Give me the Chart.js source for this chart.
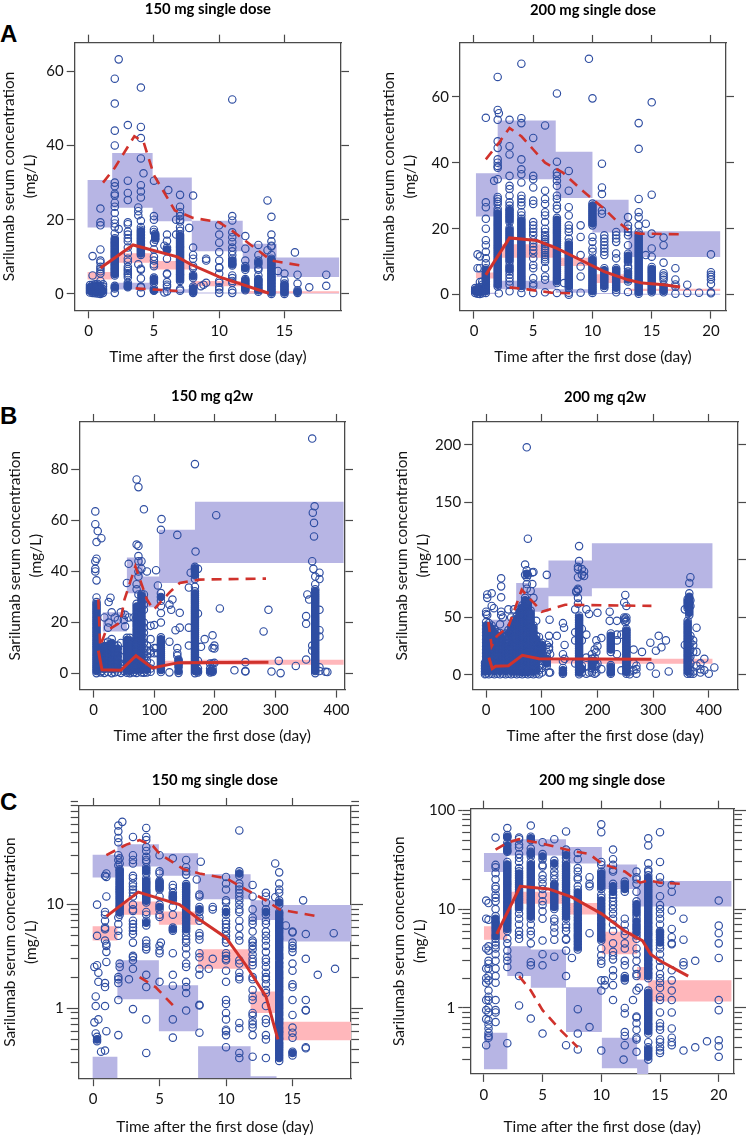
<!DOCTYPE html>
<html>
<head>
<meta charset="utf-8">
<title>Sarilumab serum concentration</title>
<script src="https://cdn.jsdelivr.net/npm/chart.js@4"></script>
<style>
html, body { margin: 0; background: #fff; }
#page { position: relative; width: 749px; height: 1135px; overflow: hidden; }
canvas { position: absolute; }
.letter { position: absolute; left: 0; font: bold 24px "Liberation Sans", sans-serif; color: #000; line-height: 24px; }
</style>
</head>
<body>
<div id="page">
<div class="letter" style="top:22px">A</div>
<div class="letter" style="top:404px">B</div>
<div class="letter" style="top:790px">C</div>
</div>
<script>
// tick labels
var xTicksSingle = [0, 5, 10, 15];
var xTicksSingle200 = [0, 5, 10, 15, 20];
var xTicksQ2w = [0, 100, 200, 300, 400];
var yTicksA = [0, 20, 40, 60];
var yTicksB1 = [0, 20, 40, 60, 80];
var yTicksB2 = [0, 50, 100, 150, 200];
var logMinor = [0.3, 0.4, 0.5, 0.6, 0.7, 0.8, 0.9, 1, 2, 3, 4, 5, 6, 7, 8, 9, 10, 20, 30, 40, 50, 60, 70, 80, 90, 100];

// panel A, 150 mg single dose
var a1Edges = [-0.1, 1.8, 4.9, 7.9, 11.8, 14.4, 19.2];
var a1Upper = [[30.7, 17.9], [38, 23.2], [31.4, 19.6], [19.7, 11.5], [13.5, 6.8], [9.8, 4.6]];
var a1Mid = [[5.9, 3.9], [11, 8.4], [8.9, 6.6], [3.5, 2.1], [0.8, 0.1], [0.7, 0.2]];
var a1Lower = [[0.3, 0.1], [3, 1.2], [1.3, 0.3], [0.4, 0.1], [0.2, 0], [0.1, 0]];
var a1Median = [[0.9, 7], [3.4, 13.2], [6.8, 10], [7.8, 8], [10, 4.6], [13.8, 0.2]];
var a1P95 = [[1.1, 30], [2, 34], [3.5, 42.5], [4.2, 41], [5, 32], [6.6, 22.5], [8, 20.5], [10, 19.3], [11, 17], [12.5, 13], [14, 9], [16.5, 7.5]];
var a1P05 = [[3.6, 1.5], [5, 1.2], [6.8, 0.8]];
var a1Points = [
 [0.1, [0.4, 0.9, 1.4, 1.9, 2.4]], [0.3, [0.3, 0.7, 1.2, 1.6, 2.1, 2.5, 5, 10.2]], [0.5, [0.2, 0.6, 1, 1.5, 2, 2.6]], [0.7, [0.1, 0.5, 0.9, 1.3, 1.8, 2.3, 2.7]],
 [0.9, [0, 0.4, 0.8, 1.2, 1.7, 2.2, 3.5, 5.5, 6.1, 6.7, 7.3, 8.5, 9, 12, 18.5, 19.3, 23]], [1.1, [0.3, 0.8, 1.3, 2, 2.6]],
 [2, [0.3, 1.5, 1.8, 2.2, 5, 5.4, 5.7, 6.1, 6.5, 6.8, 7.2, 7.6, 7.9, 8.3, 8.7, 9, 9.4, 9.8, 10.2, 10.5, 10.9, 11.3, 11.6, 12, 12.4, 12.7, 13.1, 13.5, 13.8, 14.2, 14.6, 15, 16.3, 18, 19, 20, 21.8, 23.5, 24.6, 26.5, 27, 29, 30, 40, 44, 51.3, 58]],
 [2.3, [17.5, 63.2]],
 [3, [1.8, 2, 2.5, 3, 4.5, 5.1, 5.6, 6.2, 6.7, 7.3, 8.7, 9.5, 11, 12.5, 14.2, 15, 16, 16.8, 18.8, 19.3, 25.3, 27.2, 30.5, 45.5]],
 [3.8, [8, 21.2, 22.3, 23.3]],
 [4, [0.3, 1.8, 2, 4.2, 6.5, 6.8, 10.5, 10.9, 11.3, 11.7, 12.1, 12.5, 12.9, 13.3, 13.7, 14.1, 14.5, 14.9, 15.3, 15.7, 16.1, 16.5, 16.9, 17.3, 18, 19.7, 26, 27.6, 29.3, 36.5, 42, 45, 55.6]],
 [4.2, [32.5]],
 [5, [0.9, 1, 1.5, 3, 3.5, 4, 4.4, 7.5, 8, 9, 10, 12, 13.9, 16.7, 17.3, 20, 21, 30.5]], [5.1, [14.6, 15, 15.4, 15.8, 16.2]],
 [5.8, [13, 0.4]], [6, [0.7, 2, 2.5, 3.2, 5.3, 5.5, 9.5, 11.8, 12, 12.5, 14.3, 16]], [6.1, [28]],
 [6.7, [16, 20]],
 [7, [0.9, 1.3, 3.5, 3.9, 4.3, 4.7, 5.1, 5.4, 5.8, 6.2, 6.6, 7, 7.4, 7.8, 8.2, 8.6, 8.9, 9.3, 9.7, 10.1, 10.5, 10.9, 11.3, 11.7, 12.1, 12.5, 12.8, 13.2, 13.6, 14, 14.4, 14.8, 15.2, 15.6, 16, 17, 18, 19.5, 20, 21, 22, 23.5, 26.7]],
 [7.7, [17.8]],
 [8, [0.3, 0.6, 0.9, 1.2, 1.5, 2, 4.3, 4.8, 5.2, 7, 7.5, 9.5, 10.5, 12.5, 26.5]],
 [8.6, [2.1]], [8.8, [2.5]], [9, [3, 9, 9.5]],
 [10, [0.3, 1.2, 1.8, 3, 3.5, 5.5, 7, 7.2, 9, 11.3, 13.8, 16, 18.5]],
 [11, [0.3, 1, 3, 3.5, 4.3, 5, 7.7, 8, 8.3, 8.7, 9, 9.5, 10.5, 11.5, 12.5, 14, 15.3, 16.6, 19.8, 21, 52.4]],
 [12, [1, 1.3, 1.7, 2.1, 2.5, 2.9, 3.3, 3.7, 4, 6.5, 7, 7.5, 9, 12.2, 15.6]],
 [13, [0.6, 1, 1.4, 1.8, 2.2, 2.6, 3, 3.4, 3.8, 4, 5, 6.5, 7, 8, 8.5, 9, 10.5, 13.2]],
 [13.7, [11.8, 25.2]],
 [14, [0, 0.4, 0.8, 1.2, 1.6, 2, 2.4, 2.8, 3.2, 3.6, 4, 4.4, 4.8, 5.2, 5.6, 6, 6.4, 6.8, 7.2, 7.6, 8, 8.4, 8.8, 9.2, 9.5, 10.5, 12.8, 13, 14.2, 16, 20.8]],
 [14.5, [6.2]], [15, [0, 0.4, 0.8, 1.2, 1.6, 2, 2.4, 2.8, 3.7, 5.5]], [15.8, [11.2]], [16, [0.3, 0.6, 1, 2.8, 5.2]], [16.9, [1.8]], [18.2, [2.2, 5.2]]
];

// panel A, 200 mg single dose
var a2Edges = [0.15, 2, 6.9, 10, 13.05, 20.8];
var a2Upper = [[36.8, 23.7], [52.8, 35], [43.3, 29.3], [28.8, 18.8], [19.2, 11.4]];
var a2Mid = [[6.7, 4.9], [15.3, 11.2], [11.2, 8.7], [6.2, 3.5], [1.8, 1.1]];
var a2Lower = [[0.6, 0.2], [4.2, 1.6], [1.6, 0.6], [0.5, 0.2], [0.3, 0]];
var a2Median = [[1, 6], [3, 17.2], [5.3, 16.4], [7, 14], [9, 10.5], [11, 7], [13, 4.5], [14.2, 3.5], [16, 3], [17.4, 2.3]];
var a2P95 = [[1, 41], [2.1, 46], [3, 50.5], [4, 48], [5, 44], [6, 40], [7.5, 37], [9, 32], [10, 29], [11, 26], [12, 22.5], [13.2, 19], [14, 18.5], [17.3, 18.3]];
var a2P05 = [[3, 2.2], [4.5, 1.6], [6.5, 0.6], [8.3, 0.4]];
var a2Points = [
 [0.1, [0.5, 1, 1.5, 2]], [0.3, [0.3, 0.8, 1.3, 1.8, 8, 12.2]], [0.5, [0.2, 0.7, 1.2, 1.7, 2.3, 3.8, 8, 11.6]], [0.7, [0.4, 1, 1.6, 2.2, 3, 4]],
 [1, [0.5, 1, 1.5, 2, 2.5, 3, 3.5, 4, 4.5, 5, 5.5, 6, 6.5, 7, 7.5, 8, 9.5, 11, 13, 15, 16.5, 20, 23, 26.5, 28, 53.6]],
 [1.7, [34.5]], [2, [2.5, 3, 3.6, 4.2, 4.8, 5.4, 6, 6.6, 7.2, 7.8, 8.4, 9, 9.6, 10.2, 10.8, 11.4, 12, 12.6, 13.2, 13.8, 14.4, 15, 15.6, 16.2, 16.8, 17.4, 18, 18.6, 19.2, 19.8, 20.4, 21, 21.6, 22.2, 22.8, 23.4, 24, 24.6, 25.2, 26, 27.5, 28.2, 29, 29.6, 35, 38.5, 39, 40, 41, 44.5, 46.5, 53, 56, 66]],
 [2.1, [0.4, 55]],
 [3, [1, 3, 4, 5, 6, 7, 7.6, 8.2, 8.8, 10, 10.6, 11.2, 11.8, 12.4, 13, 13.6, 14.2, 14.8, 15.4, 16, 16.6, 17.2, 17.8, 18.4, 19, 19.6, 20.2, 22, 22.6, 23.2, 23.8, 24.4, 25, 25.6, 26, 27, 28, 30, 32, 33, 36, 42.5, 45, 53]],
 [4, [0.5, 2, 2.6, 3.2, 3.8, 4.4, 5, 5.6, 6.2, 6.8, 7.4, 8, 8.6, 9.2, 9.8, 10.4, 11, 11.6, 12.2, 12.8, 13.4, 14, 14.6, 15.2, 15.8, 16.4, 17, 17.6, 18.2, 18.8, 19.4, 20, 20.6, 21.2, 21.8, 22.4, 23, 24, 25, 27, 28, 29, 30, 34, 36.5, 38, 41, 52, 53.5, 70]],
 [5, [0.5, 2.6, 3.4, 5, 8, 9, 11, 12.5, 13.5, 14.5, 15.5, 16.5, 18, 19, 20, 21, 22, 27.5, 28.5, 32.5, 35, 36, 47.5]],
 [6, [0.7, 4.5, 5.5, 8, 10, 10.7, 11.4, 12, 12.7, 13.4, 14, 14.7, 15.4, 16, 16.7, 17.4, 18, 19, 20, 22, 24, 25, 27.5, 29, 31.5, 51.3]],
 [7, [0.5, 3.5, 4.1, 4.7, 5.3, 5.9, 6.5, 7.1, 7.7, 8.3, 8.9, 9.5, 10.1, 10.7, 11.3, 11.9, 12.5, 13.1, 13.7, 14.3, 14.9, 15.5, 16.1, 16.7, 17.3, 17.9, 18.5, 19.1, 19.7, 20.3, 20.9, 21.5, 22.1, 22.7, 23.3, 26, 27, 29, 30, 33, 34.5, 36, 37, 40.3, 61]],
 [7.6, [3.5]], [8, [0, 0.6, 2, 2.6, 3.2, 3.8, 4.4, 5, 5.6, 6.2, 6.8, 7.4, 8, 8.6, 9.2, 9.8, 10.4, 11, 11.6, 12.2, 12.8, 13.4, 14, 14.6, 15.2, 15.8, 17, 19, 20, 21, 24, 26.5, 31.5, 37.5]],
 [9, [0.6, 5.5, 8.5, 12, 17.5, 21]],
 [9.7, [71.5]], [10, [0.5, 1, 1.6, 2.2, 2.8, 3.4, 4, 4.6, 5.2, 5.8, 6.4, 7, 7.6, 8.2, 8.8, 9.4, 10, 10.6, 11.2, 13, 14, 16, 17.5, 21, 21.6, 22.2, 22.8, 23.4, 24, 24.6, 25.2, 25.8, 26.4, 27, 27.6, 59.5]],
 [10.8, [24.5, 25.5, 30.5, 32.5, 39.7]],
 [11, [2, 2.6, 3.2, 3.8, 4.4, 5, 5.6, 6.2, 6.8, 7.4, 8, 12, 13, 14, 15, 16, 17, 18]],
 [12, [0.7, 1.5, 2.1, 2.7, 3.3, 3.9, 4.5, 5.1, 5.7, 6.3, 6.9, 7.5, 8, 11, 12.5, 16, 17, 18, 19]],
 [13, [0.8, 4, 4.6, 5.2, 5.8, 6.4, 7, 8, 8.6, 10, 10.6, 11.2, 11.8, 12.4, 15, 18, 19, 20, 21, 23.5]],
 [13.9, [0.3, 0.8, 1.4, 2, 2.6, 3.2, 3.8, 4.4, 5, 5.6, 6.2, 6.8, 7.4, 8, 8.6, 9.2, 9.8, 10.4, 11, 11.6, 12.2, 12.8, 13.4, 14, 14.6, 15.2, 15.8, 16.4, 17, 17.6, 18.2, 19, 21, 23.5, 25, 29, 44.2, 52]],
 [14.5, [12, 21.5]], [15, [0.7, 1.2, 1.8, 2.4, 3, 3.6, 4.2, 4.8, 5.4, 6, 6.6, 7.2, 7.8, 8.4, 11.5, 14, 18.5, 30.3, 58.3]],
 [16, [0.7, 1.2, 1.8, 2.4, 3, 4.5, 5.2, 5.8, 6.5, 9.7, 15, 17.3]],
 [17, [0.3, 2.4, 3.1, 4.6, 8]], [18, [0.5, 3]], [19, [0.6]], [20, [0.4, 0.7, 3.2, 4.6, 5.4, 6, 6.8, 12.2]]
];

// panel B, 150 mg q2w
var b1Edges = [15, 55, 82, 108, 167, 412];
var b1Upper = [[24, 16.5], [45.5, 31.5], [38, 26], [56.3, 35.5], [67.3, 43.3]];
var b1Mid = [[2, 1], [8, 5], [3, 1.5], [5, 3.5], [5.4, 3.5]];
var b1Median = [[8, 9], [14, 1.5], [45, 1.3], [70, 7], [97, 2.2], [140, 4.3], [288, 4.5]];
var b1P95 = [[8, 29], [11, 10.7], [20, 16.5], [44, 20], [51, 29], [69, 42], [88, 29], [99, 25], [126, 32], [142, 35.5], [175, 36.8], [284, 37.2]];
var b1Points = [
 [3, [40, 41, 44, 58.5, 63.5]], [5, [0.2, 1, 1.7, 2.5, 3.2, 4, 4.7, 5.5, 6.2, 7, 7.7, 8.5, 9.2, 10, 10.7, 11.5, 12.2, 13, 13.7, 14.5, 15.2, 16, 16.7, 17.5, 18.2, 19, 19.7, 20.5, 21.2, 22, 22.7, 23.5, 24.2, 25, 25.7, 26.5, 27.2, 28, 29.8, 36.5, 45, 51.5]],
 [7, [55.8]], [13, [1, 3, 5, 7, 9, 53]],
 [12, [0.5, 2, 3.4, 5, 6.4, 8, 9, 10.5]], [18, [0.3, 1.8, 3.3, 4.8, 6.3, 7.8, 9.3, 10.8, 12, 22]], [24, [0.6, 2.1, 3.6, 5.1, 6.6, 8.1, 9.6, 11, 12.5, 18]], [25, [20, 28]], [28, [29.7]], [30, [0.2, 1.7, 3.2, 4.7, 6.2, 7.7, 9.2, 10.6, 12, 13.5, 24]],
 [35, [0.5, 2, 3.5, 5, 6.5, 8, 9.5, 11, 22]], [40, [0.7, 2.2, 3.7, 5.2, 6.7, 8.2, 9.7, 11, 21]], [45, [0.3, 2, 3.5, 6.5, 12, 24]], [50, [1, 3, 21]], [52, [18.5, 23]],
 [55, [0.4, 1.2, 2, 2.8, 3.6, 4.4, 5.2, 6, 6.8, 7.6, 8.4, 9.2, 10, 10.8, 11.6, 12.4, 13.2, 14, 35.5]], [60, [0.2, 1, 1.8, 2.6, 3.4, 4.2, 5, 5.8, 6.6, 7.4, 8.2, 9, 9.8, 10.6, 11.4, 12.2, 13, 14]],
 [58, [43, 22]], [66, [0.5, 3, 6, 22]],
 [71, [0.3, 1.3, 2.3, 3.3, 4.3, 5.3, 6.3, 7.3, 8.3, 9.3, 10.3, 11.3, 12.3, 13.3, 14.3, 15.3, 16.3, 17.3, 18.3, 19.3, 20.3, 21.3, 22.3, 23.3, 24.3, 25.3, 26.3, 27.3, 33, 35, 50.5, 76]],
 [74, [31, 38, 40, 44, 46, 50, 73]],
 [79, [0.5, 1.5, 2.5, 3.5, 4.5, 5.5, 6.5, 7.5, 8.5, 9.5, 10.5, 11.5, 12.5, 13.5, 14.5, 15.5, 16.5, 17.5, 18.5, 19.5, 20.5, 21.5, 22.5, 23.5, 24.5, 25.5, 26.5, 27.5, 28.5, 29.5, 30.5, 31.2, 41, 44]],
 [83, [64.3, 0.4, 2, 4, 6, 8, 10, 12, 14, 16, 18, 20, 25, 27, 29, 31]], [88, [0.5, 1.5, 3, 5, 7, 9, 11, 40]], [94, [0.7, 2, 4, 8, 9, 13.5, 18.7]], [100, [19, 10, 8]],
 [103, [40.5, 10]], [106, [34.5, 8]], [111, [0.6, 1.4, 2.2, 3, 3.8, 4.6, 5.4, 6.2, 7, 7.8, 8.6, 9.4, 10.2, 11, 11.8, 12.6, 13.4, 14.2, 20, 23.7, 26.5, 28.5, 30, 31.5, 56.3]], [112, [60.5]],
 [125, [12.5, 27, 0.5]], [128, [25]], [130, [29]], [135, [17]], [138, [10, 54.3, 8, 7]], [140, [0.3, 1, 2.5, 3.5, 4, 5, 5.5]], [142, [18, 23.8]],
 [157, [11, 18, 33.7]], [160, [39.5]],
 [167, [0.2, 1, 1.8, 2.6, 3.4, 4.2, 5, 5.8, 6.6, 7.4, 8.2, 9, 9.8, 10.6, 11.4, 12.2, 13, 13.8, 14.6, 15.4, 16.2, 17, 17.8, 18.6, 19.4, 20.2, 21, 21.8, 22.6, 23.4, 24.2, 25, 25.8, 26.6, 27.4, 28.2, 29, 29.8, 30.6, 31.4, 32.2, 34, 37, 38.5, 39.8, 40.6, 41.2, 41.8, 82]],
 [168, [47.8]], [172, [0.5, 1, 2, 5, 23.5, 41]], [177, [10.5]], [183, [13.5]], [192, [0.5, 1, 2, 4]], [196, [0.6, 1, 2, 4, 10, 15]], [199, [9.8, 11, 4.2]], [202, [62]], [208, [25.5]],
 [232, [1.3]], [250, [0.8, 1, 4.5]], [280, [16.5]], [288, [25]], [293, [0.8]], [305, [5]], [308, [0.2]], [333, [3]], [350, [5.5, 19.5, 22.5]], [352, [31]], [355, [29]],
 [360, [92, 44, 9, 11]], [361, [63]], [362, [41]], [363, [53.7, 59]], [364, [65.5]],
 [365, [0.2, 1, 1.8, 2.6, 3.4, 4.2, 5, 5.8, 6.6, 7.4, 8.2, 9, 9.8, 10.6, 11.4, 12.2, 13, 13.8, 14.6, 15.4, 16.2, 17, 17.8, 18.6, 19.4, 20.2, 21, 21.8, 22.6, 23.4, 24.2, 25, 25.8, 26.6, 27.4, 28.2, 29, 29.8, 30.6, 31.4, 32.2, 33, 35, 38]],
 [372, [1, 2.5, 14.5, 17, 25, 37, 39.5]], [382, [0.7]], [385, [0.6]]
];

// panel B, 200 mg q2w
var b2Edges = [5, 54, 76, 112, 190, 407];
var b2Upper = [[48, 25], [80, 50], [75.7, 55], [99.4, 68.4], [114.5, 75.4]];
var b2Mid = [[9, 5], [18, 12], [16, 11], [14, 10], [14, 9.6]];
var b2Median = [[5, 15], [11, 5.5], [17, 7.5], [40, 8], [65, 17], [95, 14], [297, 13.5]];
var b2P95 = [[4, 46], [10, 25], [19, 33.6], [40, 42], [64, 74], [100, 55], [142, 61], [297, 60]];
var b2Points = [
 [-2, [0.5, 3, 5.5, 8, 10.5]], [0, [1, 4, 7, 10, 13, 16, 19, 22, 25, 28, 31, 34, 37, 40, 43, 46, 53, 55]], [2, [52, 67, 70]], [5, [0.5, 3.5, 6.5, 9.5, 12.5, 15.5, 18.5, 21.5, 24.5, 27.5, 30.5, 33.5, 36.5, 39.5, 42.5, 45]],
 [10, [1, 4, 7, 10, 13, 16, 19, 22, 25, 28, 31, 34, 37, 40, 43, 60, 71]], [14, [58]], [15, [0.5, 3.5, 6.5, 9.5, 12.5, 15.5, 18.5, 21.5, 24.5, 27.5, 30.5, 33.5, 36.5, 39.5]],
 [20, [1, 4, 7, 10, 13, 16, 19, 22, 25, 28, 31, 34, 37]], [25, [0.5, 3.5, 6.5, 9.5, 12.5, 15.5, 18.5, 21.5, 24.5, 27.5, 30.5, 33.5, 36.5, 44]], [27, [55, 67.5, 77, 84, 52]],
 [30, [1, 4, 7, 10, 13, 16, 19, 22, 25, 28, 31, 34, 50]], [35, [0.5, 3.5, 6.5, 9.5, 12.5, 15.5, 18.5, 21.5, 24.5, 27.5, 33, 36]], [40, [1, 4, 7, 10, 13, 16, 19, 22, 25, 28, 33, 36, 39, 57]], [45, [0.5, 3.5, 6.5, 9.5, 12.5, 15.5, 18.5, 21.5, 24.5, 27.5, 30.5, 33.5, 36.5, 39.5, 42.5, 50]],
 [50, [1, 3, 6, 9, 12, 15, 18, 21, 24, 27, 30, 33, 36, 39, 42, 45, 48, 57]], [55, [0.5, 3.5, 6.5, 9.5, 12.5, 15.5, 18.5, 21.5, 24.5, 27.5, 30.5, 33.5, 36.5, 39.5, 42.5, 45.5, 48.5, 51]],
 [60, [1, 3, 5, 7, 9, 11, 13, 15, 17, 19, 21, 23, 25, 27, 29, 31, 33, 35, 37, 39, 41, 43, 45, 47, 49, 51, 53, 55, 57]],
 [65, [0.5, 2.5, 4.5, 6.5, 8.5, 10.5, 12.5, 14.5, 16.5, 18.5, 20.5, 22.5, 24.5, 26.5, 28.5, 30.5, 32.5, 34.5, 36.5, 38.5, 40.5, 42.5, 44.5, 46.5, 48.5, 50.5, 52.5, 54.5, 56.5, 58.5, 60.5]],
 [70, [1, 3, 5, 7, 9, 11, 13, 15, 17, 19, 21, 23, 25, 27, 29, 31, 33, 35, 37, 39, 41, 43, 45, 47, 49, 51, 53, 55, 57, 59, 61, 63, 65, 67, 87, 96]],
 [73, [75, 79, 85, 88, 91, 198]], [75, [0.5, 2.5, 4.5, 6.5, 8.5, 10.5, 12.5, 14.5, 16.5, 18.5, 20.5, 22.5, 24.5, 26.5, 28.5, 30.5, 32.5, 34.5, 36.5, 38.5, 40.5, 42.5, 44.5, 46.5, 48.5, 50.5, 52.5, 54.5, 56.5, 58.5, 60.5, 62.5, 64, 87, 118.5]],
 [80, [1, 3.5, 6, 8.5, 11, 13.5, 16, 18.5, 21, 23.5, 26, 28.5, 31, 33.5, 36, 38.5, 41, 43.5, 46, 48.5, 51, 53.5, 56, 73]], [83, [79, 89]], [85, [0.5, 3, 5.5, 8, 10.5, 13, 15.5, 18, 20.5, 23, 25.5, 28, 30.5, 33, 35.5, 38, 40.5, 43, 67, 89.5]],
 [90, [1, 4, 7, 10, 13, 16, 19, 22, 25, 28, 31, 34, 47]], [95, [0.5, 4, 8, 12, 16, 20, 24, 28, 33]], [100, [2, 6, 12, 15, 17, 20, 22, 24, 26, 28]], [109, [87, 8, 10, 12, 14, 16, 20, 26]], [113, [34, 28, 24, 22, 2]], [114, [48]], [115, [2, 18]],
 [127, [34]], [138, [45, 18, 12, 6, 4, 2, 1]], [140, [41]], [141, [26, 14]],
 [160, [10, 30, 37, 57]], [162, [72, 73]], [165, [62, 67, 74, 75, 85, 92, 94]],
 [167, [0.5, 2, 3.5, 5, 6.5, 8, 9.5, 11, 12.5, 14, 15.5, 17, 18.5, 20, 21.5, 23, 24.5, 26, 27.5, 29, 30.5, 32, 33.5, 35, 36.5, 38, 39.5, 41, 42.5, 44, 45.5, 47, 48.5, 50, 51.5, 99, 112]],
 [172, [2, 5, 8, 30, 40, 87, 92]], [176, [86, 90]], [180, [1, 57, 35, 15]], [185, [53, 2]], [190, [2, 6, 8, 10, 12, 14, 18]], [195, [1, 5, 9, 12, 15, 22]], [198, [2, 8, 30, 20]], [200, [54, 10, 25]], [207, [32, 5]],
 [222, [47, 55]], [224, [1, 2, 3, 5, 7, 8.5, 20, 22, 24, 26, 28, 30, 32, 34, 36]], [235, [47, 35, 30, 18]], [243, [35, 4]], [248, [63, 50, 48]], [250, [69.5, 46, 49]],
 [252, [1, 2.5, 4, 5.5, 7, 8.5, 10, 11.5, 13, 14.5, 16, 17.5, 19, 20.5, 22, 23.5, 25, 26.5, 28, 29.5, 31, 32.5, 34, 35.5, 37, 38.5, 40, 47, 50, 60]],
 [258, [0.5, 3]], [265, [22, 4, 10]], [270, [1, 5, 8]], [280, [20]], [295, [28, 7.5]], [305, [1, 21]], [310, [34]], [315, [24]], [323, [30]], [328, [3]],
 [357, [26, 57]], [362, [1, 3, 5, 7, 9, 11, 13, 15, 17, 19, 21, 23, 25, 27, 29, 31, 33, 35, 37, 39, 41, 43, 45, 47, 58, 60, 62, 64, 66]],
 [365, [80, 71, 2, 8, 14, 20, 26, 32, 52, 54, 56, 58, 60, 62, 64, 66, 68]], [367, [85, 1, 4, 10, 16, 22, 28, 34, 60, 65]], [372, [1, 3, 20, 26, 30]], [378, [41, 20, 8]], [385, [2, 5, 10]], [392, [14, 4]], [400, [1]], [410, [6.5]]
];

// panel C, 150 mg single dose, log axis
var c1Edges = [-0.05, 1.83, 4.95, 7.9, 11.85, 13.8, 19.4];
var c1Upper = [[30.3, 18.3], [38.2, 23.4], [31.4, 19], [19.6, 11.3], [11, 7.1], [9.9, 4.4]];
var c1Mid = [[6.2, 4.5], [10.7, 8], [8.6, 6.4], [3.7, 2.4], [1.45, 0.9], [0.74, 0.49]];
var c1Lower = [[0.34, 0.1], [2.9, 1.22], [1.67, 0.6], [0.43, 0.1], [0.22, 0.1], [0.1, 0.1]];
var c1Median = [[1, 7.7], [3.4, 13.2], [6.5, 10], [8, 7.2], [10, 4.8], [11.5, 2.6], [13, 1.3], [13.9, 0.5]];
var c1P95 = [[1, 30], [2.5, 38], [3.5, 42], [4.5, 37], [5, 31], [6.8, 22], [8, 20], [10, 18], [11.5, 14], [13, 11], [14, 9], [16.7, 7.8]];
var c1P05 = [[3.5, 2], [4.7, 1.6], [6, 1.07]];
var c1Points = [
 [0.1, [0.73, 2.5]], [0.2, [0.57, 1.05, 1.3]], [0.3, [0.48, 0.5, 0.53, 2.6, 5, 10]], [0.4, [0.78, 1.8, 2.2]], [0.6, [0.38]],
 [0.9, [0.39, 1.05, 1.6, 1.75, 4.5, 5.8, 6, 7, 8, 8.5, 19]], [1, [0.6, 2.8, 3.5, 4, 4.2, 12, 18.5, 20]],
 [1.9, [0.55, 1.2, 1.75, 1.9, 2, 5, 5.6, 6.5, 7.5, 24, 27, 30, 40, 44, 51, 58]],
 [2, [2.5, 2.7, 8, 8.4, 8.8, 9.2, 9.6, 10, 10.5, 11, 11.5, 12, 12.5, 13, 13.5, 14, 14.5, 15, 15.6, 16.2, 16.8, 17.5, 18.2, 19, 19.8, 20.6, 21.4, 22, 25, 28]],
 [2.2, [63]],
 [2.7, [1.9]], [3, [0.98, 2.4, 2.9, 3.1, 3.2, 4.3, 5.2, 5.6, 6, 6.5, 7, 8.7, 9, 10, 12, 13, 14, 15, 16, 18, 19, 25, 27, 30, 45]],
 [4, [0.37, 0.78, 1.6, 2.1, 3.7, 3.9, 4.2, 4.5, 6.3, 6.7, 7, 8, 8.5, 10.5, 10.9, 11.3, 11.7, 12.1, 12.6, 13, 13.5, 14, 14.6, 15.2, 15.8, 16.4, 17, 18, 20, 21, 22, 23, 26, 27, 29, 33, 36, 42, 45, 55]],
 [5, [1.8, 3.4, 3.6, 4, 7.6, 8, 9, 9.5, 10, 12, 14, 14.5, 15, 15.5, 16, 16.5, 17, 20, 21, 30]], [5.1, [4.3]],
 [6, [0.52, 0.78, 1.65, 2.1, 3.4, 5.6, 5.8, 6, 8, 9.5, 11, 11.5, 11.8, 12, 12.4, 13, 14.5, 15.5, 28]],
 [7, [0.95, 1.4, 1.6, 1.8, 2.5, 2.7, 3.3, 3.8, 4.3, 4.6, 5, 5.5, 5.8, 6, 6.3, 6.6, 7, 7.3, 7.6, 8, 8.3, 8.7, 9, 9.4, 9.8, 10.2, 10.6, 11, 11.5, 12, 12.5, 13, 13.5, 14, 14.6, 15.2, 15.8, 19.5, 21, 23, 27]],
 [7.8, [17.5]], [8, [0.58, 1.06, 1.08, 2.1, 2.4, 3.1, 3.4, 4.6, 5, 5.3, 7, 7.5, 8.5, 9, 9.5, 12, 12.5]], [8.1, [26]], [8.7, [2.4]], [9, [3, 9, 9.5]],
 [10, [0.42, 0.55, 0.6, 0.62, 0.78, 0.9, 1.1, 1.2, 1.8, 2.3, 2.9, 3, 3.2, 3.4, 4.3, 4.6, 5, 5.5, 6, 6.5, 7, 8, 8.5, 9, 10.5, 11, 14, 16, 18.5]],
 [11, [0.33, 0.37, 0.64, 0.72, 1.9, 2, 2.2, 2.7, 2.9, 4.5, 5, 6, 7, 8.5, 9, 10, 11, 12, 13, 14, 15, 16, 19, 20, 21, 52]],
 [12, [0.34, 0.55, 0.65, 0.7, 0.75, 0.85, 0.9, 1.2, 1.3, 1.5, 1.9, 2, 2.6, 2.8, 3, 3.3, 3.7, 4, 4.3, 4.5, 5.5, 6.5, 7, 7.5, 9, 12, 15.5]],
 [13, [0.33, 0.5, 0.55, 0.72, 0.78, 1.05, 1.4, 1.5, 1.7, 1.9, 2, 2.2, 2.5, 2.8, 3, 3.5, 4, 4.5, 5, 5.5, 6.5, 7, 8, 8.5, 9, 10.5, 12, 13]],
 [13.7, [11.8, 25]],
 [14, [0.31, 0.33, 0.35, 0.37, 0.39, 0.41, 0.43, 0.45, 0.47, 0.5, 0.52, 0.55, 0.58, 0.6, 0.63, 0.66, 0.7, 0.73, 0.77, 0.8, 0.85, 0.89, 0.93, 0.98, 1.03, 1.08, 1.13, 1.19, 1.25, 1.3, 1.37, 1.44, 1.5, 1.58, 1.66, 1.74, 1.83, 1.92, 2, 2.1, 2.2, 2.3, 2.45, 2.55, 2.7, 2.8, 3, 3.1, 3.25, 3.4, 3.6, 3.8, 3.95, 4.15, 4.35, 4.6, 4.8, 5, 5.3, 5.55, 5.8, 6.1, 6.4, 6.7, 7.1, 7.4, 7.8, 8.2, 8.5, 10, 10.5, 11, 13, 14, 16, 20.5]],
 [14.5, [6.3]], [15, [0.35, 0.37, 0.38, 0.52, 0.58, 0.65, 0.86, 1.2, 1.6, 1.7, 2.3, 2.7, 3.5, 3.8, 4, 4.3, 5.4, 5.5]], [15.8, [11]], [16, [0.41, 0.42, 0.95, 0.96, 1.2, 3, 5.2]], [16.9, [2.1]], [18.1, [5.3]], [18.2, [2.4]]
];

// panel C, 200 mg single dose, log axis
var c2Edges = [0, 2, 4, 7, 10.05, 13.05, 14, 21.1];
var c2Upper = [[37, 23.7], [51, 34.8], [51, 34.8], [42.5, 29], [28.3, 16], [19.2, 10.6], [19.2, 10.6]];
var c2Mid = [[6.7, 4.9], [15, 11.3], [15, 11.3], [11.5, 8.8], [5.9, 3.5], [2.6, 1.9], [1.9, 1.16]];
var c2Lower = [[0.56, 0.24], [4.2, 2.1], [3.9, 1.6], [1.62, 0.57], [0.5, 0.245], [0.3, 0.2], [0.1, 0.1]];
var c2Median = [[1.1, 5.6], [3.1, 17], [5.5, 16], [7.5, 13.2], [10, 9], [12, 6], [13.5, 4.8], [14.2, 3.5], [15, 3], [17.4, 2.1]];
var c2P95 = [[1, 40], [2, 47], [3, 51], [5, 46], [7, 40], [9, 36], [10, 29], [12, 24], [13.3, 18.5], [14, 19.5], [15, 18.5], [17, 18]];
var c2P05 = [[3, 2.1], [4, 1.5], [5, 0.95], [6.5, 0.6], [8, 0.4]];
var c2Points = [
 [0.2, [0.42, 0.77, 0.95, 1.2, 1.8, 2, 2.5, 4, 8, 12.2]],
 [0.4, [0.5, 0.52, 0.56, 0.62, 0.68, 0.75, 0.9, 1, 1.2, 1.3, 1.5, 1.9, 2.1, 2.5, 2.8, 3, 3.8, 4.2, 7.8, 11.5]],
 [1, [0.72, 0.9, 0.95, 1.2, 1.8, 2.1, 2.5, 3, 3.5, 4, 4.3, 4.6, 5, 5.3, 5.6, 6, 6.4, 6.8, 7.2, 7.5, 8, 8.5, 10, 12, 13, 14, 16, 17, 20, 23, 26.5, 28, 53]],
 [2, [0.44, 2.6, 3, 3.3, 3.8, 4.5, 5, 6, 6.3, 6.7, 7.1, 7.5, 7.9, 8.3, 8.8, 9.3, 9.8, 10.3, 10.9, 11.5, 12.1, 12.8, 13.5, 14.2, 15, 15.8, 16.7, 17.6, 18.5, 19.5, 20.6, 21.7, 22.9, 24.1, 25.5, 26.8, 28.3, 30, 38, 39, 41, 44, 47, 53, 54, 56, 66]],
 [3, [1.06, 2.1, 5, 5.5, 6, 7, 8, 9, 10, 10.5, 11, 11.6, 12.2, 12.8, 13.5, 14.2, 15, 15.8, 16.7, 17.6, 18.5, 19.5, 20.6, 21.7, 22.9, 24.1, 26, 30, 33, 36, 42, 45, 51, 53]],
 [4, [0.78, 2.7, 2.9, 4.5, 5.5, 6, 7, 8, 8.4, 8.9, 9.4, 9.9, 10.4, 11, 11.6, 12.2, 12.8, 13.5, 14.2, 15, 15.8, 16.7, 17.6, 18.5, 19.5, 20.6, 21.7, 22.9, 24.1, 25.5, 26.8, 28.3, 30, 34, 36, 37, 38, 41, 50, 52, 54, 70]],
 [5, [0.55, 2.7, 3.5, 4.8, 8, 9.5, 11, 12, 14, 16, 18, 20, 22, 27, 28, 32, 34, 36, 47.5]],
 [6, [3.3, 4.9, 5.8, 6.5, 7.5, 8, 10, 10.5, 11, 11.6, 12.2, 12.8, 13.5, 14.2, 15, 15.8, 16.7, 17.6, 18, 20, 22, 24, 27, 29, 31, 51]],
 [7, [0.42, 2.1, 3.8, 4.9, 5, 6, 6.5, 7, 8, 8.4, 8.9, 9.4, 9.9, 10.4, 11, 11.6, 12.2, 12.8, 13.5, 14.2, 15, 15.8, 16.7, 17.6, 18.5, 19.5, 20.6, 21.7, 22.9, 24.1, 25.5, 26.8, 28, 30, 33, 35, 37, 40, 61]],
 [7.5, [3.2]], [8, [0.38, 0.55, 0.97, 3.9, 4.1, 4.4, 4.7, 5, 5.3, 5.6, 6, 6.4, 6.8, 7.2, 7.7, 8.2, 8.8, 9.4, 10, 10.7, 11.4, 12.2, 13, 13.8, 14.7, 15.7, 17, 20, 21, 24, 26, 32, 37]],
 [9, [0.64, 5.7, 17, 18, 21]],
 [10, [0.37, 1.5, 1.9, 2.8, 3, 3.4, 4, 4.8, 5, 5.3, 5.6, 6, 6.4, 6.8, 7.2, 7.7, 8.2, 8.8, 9.4, 10, 10.7, 11.4, 12.2, 13, 14, 16, 16.8, 17.6, 18.5, 19.5, 20.6, 21.7, 22.9, 24, 28, 30, 60, 72]], [10.3, [1.7, 1.9]],
 [11, [1.2, 1.7, 2.1, 2.4, 3.1, 3.4, 3.7, 4.5, 6, 7, 8, 9, 10, 11, 12, 13, 14, 15, 16, 17, 18, 24, 25, 28, 32, 40]],
 [11.9, [0.3]], [12, [0.42, 0.52, 0.57, 0.88, 1, 1.9, 2, 2.1, 2.7, 3, 4, 4.5, 5.5, 6, 7, 8, 15, 16, 17, 18, 19]],
 [12.7, [1.2]], [13, [0.36, 0.48, 0.5, 0.6, 0.7, 0.8, 0.82, 1.5, 2.1, 2.2, 2.5, 3, 3.5, 4, 5, 5.4, 5.8, 6.2, 6.6, 7, 7.5, 8, 8.6, 9.2, 9.8, 10.5, 11.2, 12, 15, 18, 20, 21, 24]], [13.2, [1.6]],
 [14, [0.3, 0.32, 0.34, 0.36, 0.38, 0.4, 0.45, 0.55, 0.58, 0.61, 0.64, 0.67, 0.7, 0.74, 0.78, 0.82, 0.86, 0.9, 0.95, 1, 1.05, 1.1, 1.16, 1.22, 1.28, 1.35, 1.42, 1.5, 2, 2.1, 2.2, 2.3, 2.45, 2.55, 2.7, 2.8, 3, 3.1, 3.25, 3.4, 3.6, 3.8, 3.95, 4.15, 4.35, 4.6, 4.8, 5, 5.3, 5.55, 5.8, 6.1, 6.4, 6.7, 7.1, 7.4, 7.8, 8.2, 8.6, 9, 9.5, 10, 10.5, 11, 11.5, 12.1, 12.7, 13.3, 14, 14.7, 15.4, 16.2, 17, 17.8, 18.7, 19.6, 20.6, 22, 24, 25, 29, 44, 52]],
 [15, [0.35, 0.37, 0.4, 0.45, 0.48, 0.6, 0.65, 0.7, 0.9, 1.2, 1.3, 1.6, 1.8, 2, 2.2, 2.6, 3, 3.5, 4, 4.3, 4.6, 4.9, 5.2, 5.5, 5.8, 6, 7, 8, 9, 10, 11, 13.5, 18.5, 21, 30, 60]],
 [16, [0.42, 0.45, 0.5, 0.62, 0.9, 1.2, 1.5, 1.9, 2.4, 4.4, 4.5, 5.2, 6.3, 9.7, 15, 17.5]],
 [17, [0.37, 2.7, 2.9, 4.9, 8]], [18, [0.4, 3]], [19, [0.46]], [20, [0.32, 0.41, 0.47, 0.95, 1.2, 3.2, 4.5, 5.7, 6.8, 12.2]]
];

var font = '"Lato", sans-serif';
var inkColor = '#141414';
var axisColor = '#4a4a4a';
var blueBand = '#b7b5e4';
var pinkBand = '#ffb7bb';
var circleColor = '#2f4ea2';
var redLine = '#d0322c';
var yTitle = ['Sarilumab serum concentration', '(mg/L)'];
var titleH = 17.8;

// points packed tighter than the gap overlap into a solid strand, so they are drawn filled
function splitPoints(cols, yPx, gap) {
	var open = [], solid = [];
	cols.forEach(function(c) {
		var ys = c[1].slice().sort(function(a, b) { return a - b; });
		ys.forEach(function(y, i) {
			var near = i > 0 && i < ys.length - 1 && yPx(ys[i + 1]) - yPx(y) <= gap && yPx(y) - yPx(ys[i - 1]) <= gap;
			(near ? solid : open).push({ x: c[0], y: y });
		});
	});
	return { open: open, solid: solid };
}

function xy(pairs) {
	return pairs.map(function(p) { return { x: p[0], y: p[1] }; });
}

// a band is two stepped lines (top and bottom of each bin), filled between them
function bandDatasets(edges, band, color) {
	function steps(k) {
		var pts = band.map(function(b, i) { return { x: edges[i], y: b[k] }; });
		pts.push({ x: edges[edges.length - 1], y: band[band.length - 1][k] });
		return pts;
	}
	var base = { showLine: true, stepped: true, borderWidth: 0, pointRadius: 0, order: 5 };
	return [
		Object.assign({ data: steps(0), fill: '+1', backgroundColor: color, borderColor: color }, base),
		Object.assign({ data: steps(1), fill: false, borderColor: color }, base)
	];
}

function tickAxis(values, extra) {
	return Object.assign({
		afterBuildTicks: function(axis) {
			axis.ticks = values.map(function(v) { return { value: v }; });
		},
		border: { color: axisColor, width: 1.3 },
		grid: { drawOnChartArea: false, tickColor: axisColor, tickWidth: 1.2, tickLength: 8 },
		ticks: { display: false, autoSkip: false, maxRotation: 0 }
	}, extra);
}

function sized(key, px) {
	return function(axis) { axis[key] = px; };
}

function drawPanel(p) {
	var canvas = document.createElement('canvas');
	var w = p.box[1] + 12 - p.cell[0];
	var h = p.cell[2] - p.cell[1];
	canvas.width = w;
	canvas.height = h;
	canvas.style.left = p.cell[0] + 'px';
	canvas.style.top = p.cell[1] + 'px';
	document.getElementById('page').appendChild(canvas);

	var boxH = p.box[3] - p.box[2];
	var yPx = p.log
		? function(v) { return Math.log10(v) * boxH / (Math.log10(p.y[1]) - Math.log10(p.y[0])); }
		: function(v) { return v * boxH / (p.y[1] - p.y[0]); };
	var pts = splitPoints(p.points, yPx, p.gap);
	var circle = { showLine: false, pointRadius: 3.7, pointBorderWidth: 1.15, pointBorderColor: circleColor, order: 2 };

	var datasets = [];
	datasets.push({ data: xy(p.median), showLine: true, borderColor: redLine, borderWidth: 3, pointRadius: 0, order: 0 });
	datasets.push({ data: xy(p.p95), showLine: true, borderColor: redLine, borderWidth: 2.6, borderDash: [10, 7], pointRadius: 0, order: 0 });
	if (p.p05) datasets.push({ data: xy(p.p05), showLine: true, borderColor: redLine, borderWidth: 2.6, borderDash: [10, 7], pointRadius: 0, order: 0 });
	datasets.push(Object.assign({ data: pts.open, pointBackgroundColor: 'transparent' }, circle));
	datasets.push(Object.assign({ data: pts.solid, pointBackgroundColor: circleColor }, circle));
	datasets = datasets.concat(bandDatasets(p.edges, p.upper, blueBand), bandDatasets(p.edges, p.mid, pinkBand));
	if (p.lower) datasets = datasets.concat(bandDatasets(p.edges, p.lower, blueBand));

	var leftW = p.box[0] - p.cell[0];
	var topH = p.box[2] - p.cell[1] - titleH;
	var bottomH = p.cell[2] - p.box[3];
	var labelFont = { family: font, size: 15 };
	var yType = p.log ? 'logarithmic' : 'linear';
	var yRange = { type: yType, min: p.y[0], max: p.y[1] };
	var xRange = { type: 'linear', min: p.x[0], max: p.x[1] };

	var yLabels = {
		display: true, autoSkip: false, padding: 3, color: inkColor, font: labelFont,
		callback: function(v) { return p.yTicks.indexOf(v) >= 0 ? String(v) : ''; }
	};
	var yAxisTitle = { display: true, text: yTitle, color: inkColor, padding: 0, font: { family: font, size: 15.4, lineHeight: 1.4 } };

	var scales = {
		x: tickAxis(p.xTicks, Object.assign({}, xRange, {
			afterFit: sized('height', bottomH),
			ticks: { display: true, autoSkip: false, maxRotation: 0, padding: 4, color: inkColor, font: labelFont, callback: function(v) { return String(v); } },
			title: { display: true, text: 'Time after the first dose (day)', color: inkColor, padding: 0, font: { family: font, size: 15.4, lineHeight: 1.09 } }
		})),
		xTop: tickAxis(p.xTicks, Object.assign({}, xRange, { position: 'top', afterFit: sized('height', topH) }))
	};

	if (p.log) {
		// labelled decades stick out further than the minor ticks, so they sit on an outer axis
		var outerGrid = { drawOnChartArea: false, tickColor: axisColor, tickWidth: 1.2, tickLength: 4 };
		scales.y = tickAxis(p.yTicks, Object.assign({}, yRange, {
			weight: 2, afterFit: sized('width', leftW - 8), border: { display: false }, grid: outerGrid,
			ticks: yLabels, title: yAxisTitle
		}));
		scales.yInner = tickAxis(logMinor, Object.assign({}, yRange, { position: 'left', weight: 1, afterFit: sized('width', 8) }));
		scales.yRight = tickAxis(p.yTicks, Object.assign({}, yRange, { position: 'right', weight: 2, afterFit: sized('width', 4), border: { display: false }, grid: outerGrid }));
		scales.yRightInner = tickAxis(logMinor, Object.assign({}, yRange, { position: 'right', weight: 1, afterFit: sized('width', 8) }));
	} else {
		scales.y = tickAxis(p.yTicks, Object.assign({}, yRange, {
			afterFit: sized('width', leftW), ticks: yLabels, title: yAxisTitle
		}));
		scales.yRight = tickAxis(p.yTicks, Object.assign({}, yRange, { position: 'right', afterFit: sized('width', 12) }));
	}

	new Chart(canvas, {
		type: 'scatter',
		data: { datasets: datasets },
		options: {
			responsive: false,
			animation: false,
			layout: { autoPadding: false },
			plugins: {
				legend: { display: false },
				tooltip: { enabled: false },
				title: { display: true, text: p.title, fullSize: false, color: '#000', padding: 0, font: { family: font, size: 14.8, weight: 'bold', lineHeight: 1.2 } }
			},
			scales: scales
		}
	});
}

// cell = [left, top, bottom], box = [left, right, top, bottom] of the plot frame, gap in px
drawPanel({ title: '150 mg single dose', cell: [-2, 0, 365.7], box: [74.7, 341.3, 42.7, 311], x: [-1.07, 19.33], y: [-4.4, 67.7], gap: 1.9, xTicks: xTicksSingle, yTicks: yTicksA, edges: a1Edges, upper: a1Upper, mid: a1Mid, lower: a1Lower, median: a1Median, p95: a1P95, p05: a1P05, points: a1Points });
drawPanel({ title: '200 mg single dose', cell: [378, 1, 365.7], box: [460, 726.7, 43, 311.3], x: [-1.18, 21.27], y: [-4.84, 76.3], gap: 2.1, xTicks: xTicksSingle200, yTicks: yTicksA, edges: a2Edges, upper: a2Upper, mid: a2Mid, lower: a2Lower, median: a2Median, p95: a2P95, p05: a2P05, points: a2Points });
drawPanel({ title: '150 mg q2w', cell: [3.5, 387, 744.4], box: [78.7, 345.3, 422, 690], x: [-23.5, 414], y: [-6.25, 98.5], gap: 4.2, xTicks: xTicksQ2w, yTicks: yTicksB1, edges: b1Edges, upper: b1Upper, mid: b1Mid, median: b1Median, p95: b1P95, points: b1Points });
drawPanel({ title: '200 mg q2w', cell: [390.8, 388, 744.4], box: [472, 738.3, 422, 690], x: [-25, 452.5], y: [-12.8, 220], gap: 3.6, xTicks: xTicksQ2w, yTicks: yTicksB2, edges: b2Edges, upper: b2Upper, mid: b2Mid, median: b2Median, p95: b2P95, points: b2Points });
drawPanel({ title: '150 mg single dose', cell: [-1, 771, 1135.1], box: [78.7, 351.3, 806, 1078.3], x: [-1.08, 19.4], y: [0.211, 89.7], log: true, gap: 2.9, xTicks: xTicksSingle, yTicks: [1, 10], edges: c1Edges, upper: c1Upper, mid: c1Mid, lower: c1Lower, median: c1Median, p95: c1P95, p05: c1P05, points: c1Points });
drawPanel({ title: '200 mg single dose', cell: [387.5, 771, 1135.1], box: [469.7, 734.3, 808.7, 1074], x: [-1.16, 21.3], y: [0.215, 103.8], log: true, gap: 3.1, xTicks: xTicksSingle200, yTicks: [1, 10, 100], edges: c2Edges, upper: c2Upper, mid: c2Mid, lower: c2Lower, median: c2Median, p95: c2P95, p05: c2P05, points: c2Points });
</script>
</body>
</html>
